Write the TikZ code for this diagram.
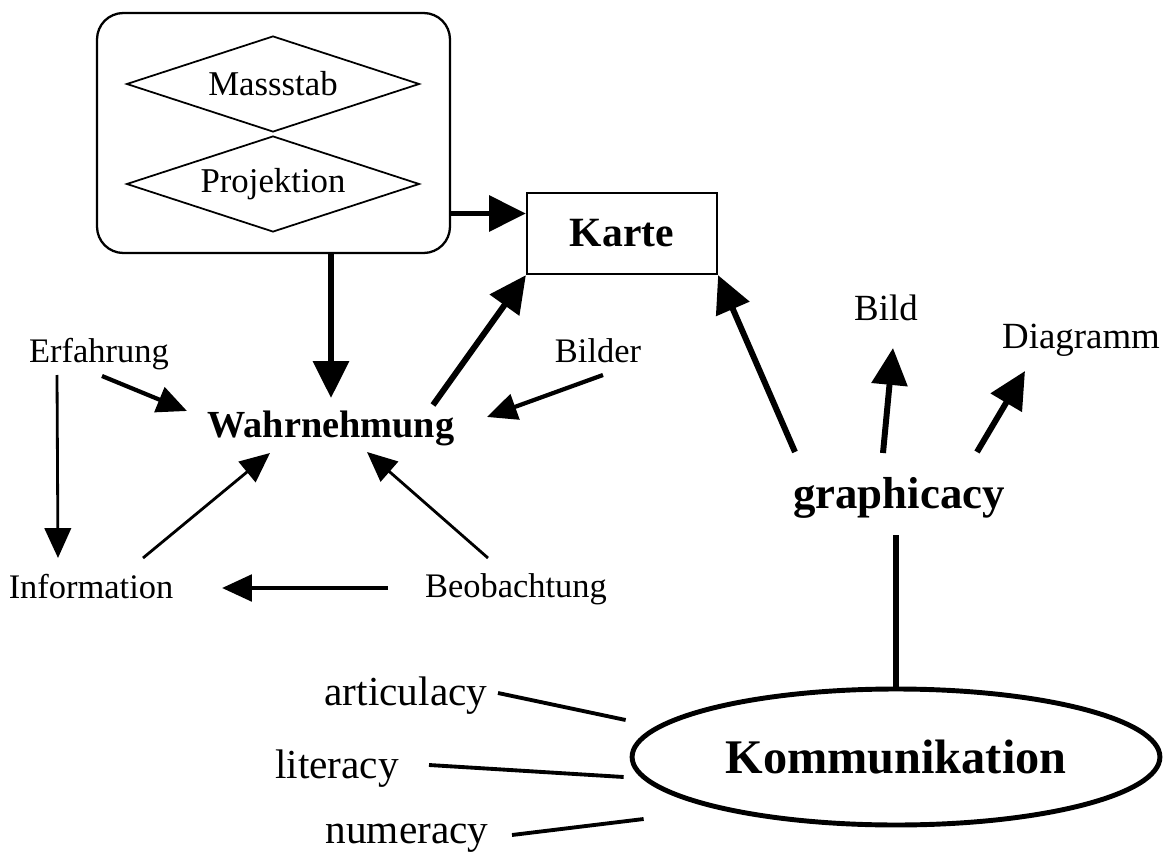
\documentclass[tikz,border=0pt]{standalone}
\usepackage{fontspec}
\setmainfont{Liberation Serif}
\usepackage{tikz}
\usetikzlibrary{
  arrows.meta,
  shapes.geometric,
  calc,
  positioning
}
\tikzset{>={Triangle[length=17pt,width=15pt]}}
\tikzset{lbl/.style={font=\fontsize{19.6}{23}\selectfont, inner sep=2pt, anchor=base}}
\tikzset{fatarrow/.style={line width=3.4pt, -{Triangle[length=21pt,width=20pt]}}}
\tikzset{midarrow/.style={line width=2.4pt, ->}}
\tikzset{thinarrow/.style={line width=1.6pt, ->}}
\tikzset{rhomb/.style={diamond, draw, line width=1pt, aspect=3, inner sep=0pt,
    minimum width=166.7pt, minimum height=54.6pt, font=\fontsize{19.8}{24}\selectfont}}

\begin{document}
\begin{tikzpicture}[x=0.02cm, y=-0.02cm]
  \useasboundingbox (0,0) rectangle (1167,855);
  \node[draw, line width=1.3pt, rounded corners=15pt, minimum width=200.9pt,
    minimum height=136.6pt] (frame) at (273.5,133) {};
  \node[rhomb] (mass) at (273,84) {Massstab};
  \node[rhomb] (proj) at (273,184) {Projektion};
  \node[draw, line width=1.3pt, minimum width=108.1pt, minimum height=46.1pt,
    font=\bfseries\fontsize{23.7}{28}\selectfont] (karte) at (622,233.5) {Karte};

  \node[lbl] (erf) at (99,362) {Erfahrung};
  \node[lbl, font=\bfseries\fontsize{21.8}{26}\selectfont] (wahr) at (331,437) {Wahrnehmung};
  \node[lbl] (bilder) at (598,362) {Bilder};
  \node[lbl] (info) at (91,598) {Information};
  \node[lbl] (beob) at (516,597) {Beobachtung};

  \node[lbl, font=\fontsize{21}{25}\selectfont] (bild) at (886,320) {Bild};
  \node[lbl, font=\fontsize{21}{25}\selectfont] (diag) at (1081,348) {Diagramm};
  \node[lbl, font=\bfseries\fontsize{25.5}{30}\selectfont] (graph) at (899,508) {graphicacy};

  \node[ellipse, draw, line width=2.8pt, minimum width=300.4pt, minimum height=77.4pt,
    font=\bfseries\fontsize{27.5}{32}\selectfont] (komm) at (896,757) {Kommunikation};
  \node[lbl, font=\fontsize{23.5}{28}\selectfont] (artic) at (406,705) {articulacy};
  \node[lbl, font=\fontsize{23.5}{28}\selectfont] (liter) at (337,778) {literacy};
  \node[lbl, font=\fontsize{23.5}{28}\selectfont] (numer) at (407,843) {numeracy};

  \coordinate (kin) at ($(karte.west)+(0,-20)$);
  \draw[fatarrow] (frame.east |- kin) -- (kin);
  \draw[fatarrow] (frame.south -| wahr.base) -- ($(wahr.base)+(0,-39)$);
  \draw[fatarrow] ($(wahr.base)+(102,-32)$) -- (karte.south west);

  \draw[midarrow] ($(erf.base)+(3,14)$) -- ($(wahr.base)+(-144,-26)$);
  \draw[thinarrow] ($(erf.base)+(-42,13)$) -- ($(info.base)+(-33,-40)$);
  \draw[midarrow] ($(bilder.base)+(5,13)$) -- ($(wahr.base)+(156,-20)$);
  \draw[thinarrow] ($(info.base)+(52,-40)$) -- ($(wahr.base)+(-61,16)$);
  \draw[thinarrow] ($(beob.base)+(-28,-39)$) -- ($(wahr.base)+(36,15)$);
  \draw[midarrow] ($(beob.base)+(-128,-9)$) -- ($(info.base)+(131,-10)$);

  \draw[fatarrow] ($(graph.base)+(-104,-56)$) -- (karte.south east);
  \draw[fatarrow] ($(graph.base)+(-16,-55)$) -- ($(bild.base)+(7,28)$);
  \draw[fatarrow] ($(graph.base)+(78,-56)$) -- ($(diag.base)+(-56,23)$);
  \draw[line width=3.4pt] ($(graph.base -| komm.north)+(0,27)$) -- (komm.north);

  \draw[line width=2.2pt] ($(artic.base)+(92,-12)$) -- ($(komm.west)+(-4,-37)$);
  \draw[line width=2.2pt] ($(liter.base)+(92,-13)$) -- ($(komm.west)+(-6,20)$);
  \draw[line width=2.2pt] ($(numer.base)+(105,-8)$) -- ($(komm.west)+(14,62)$);
\end{tikzpicture}
\end{document}
